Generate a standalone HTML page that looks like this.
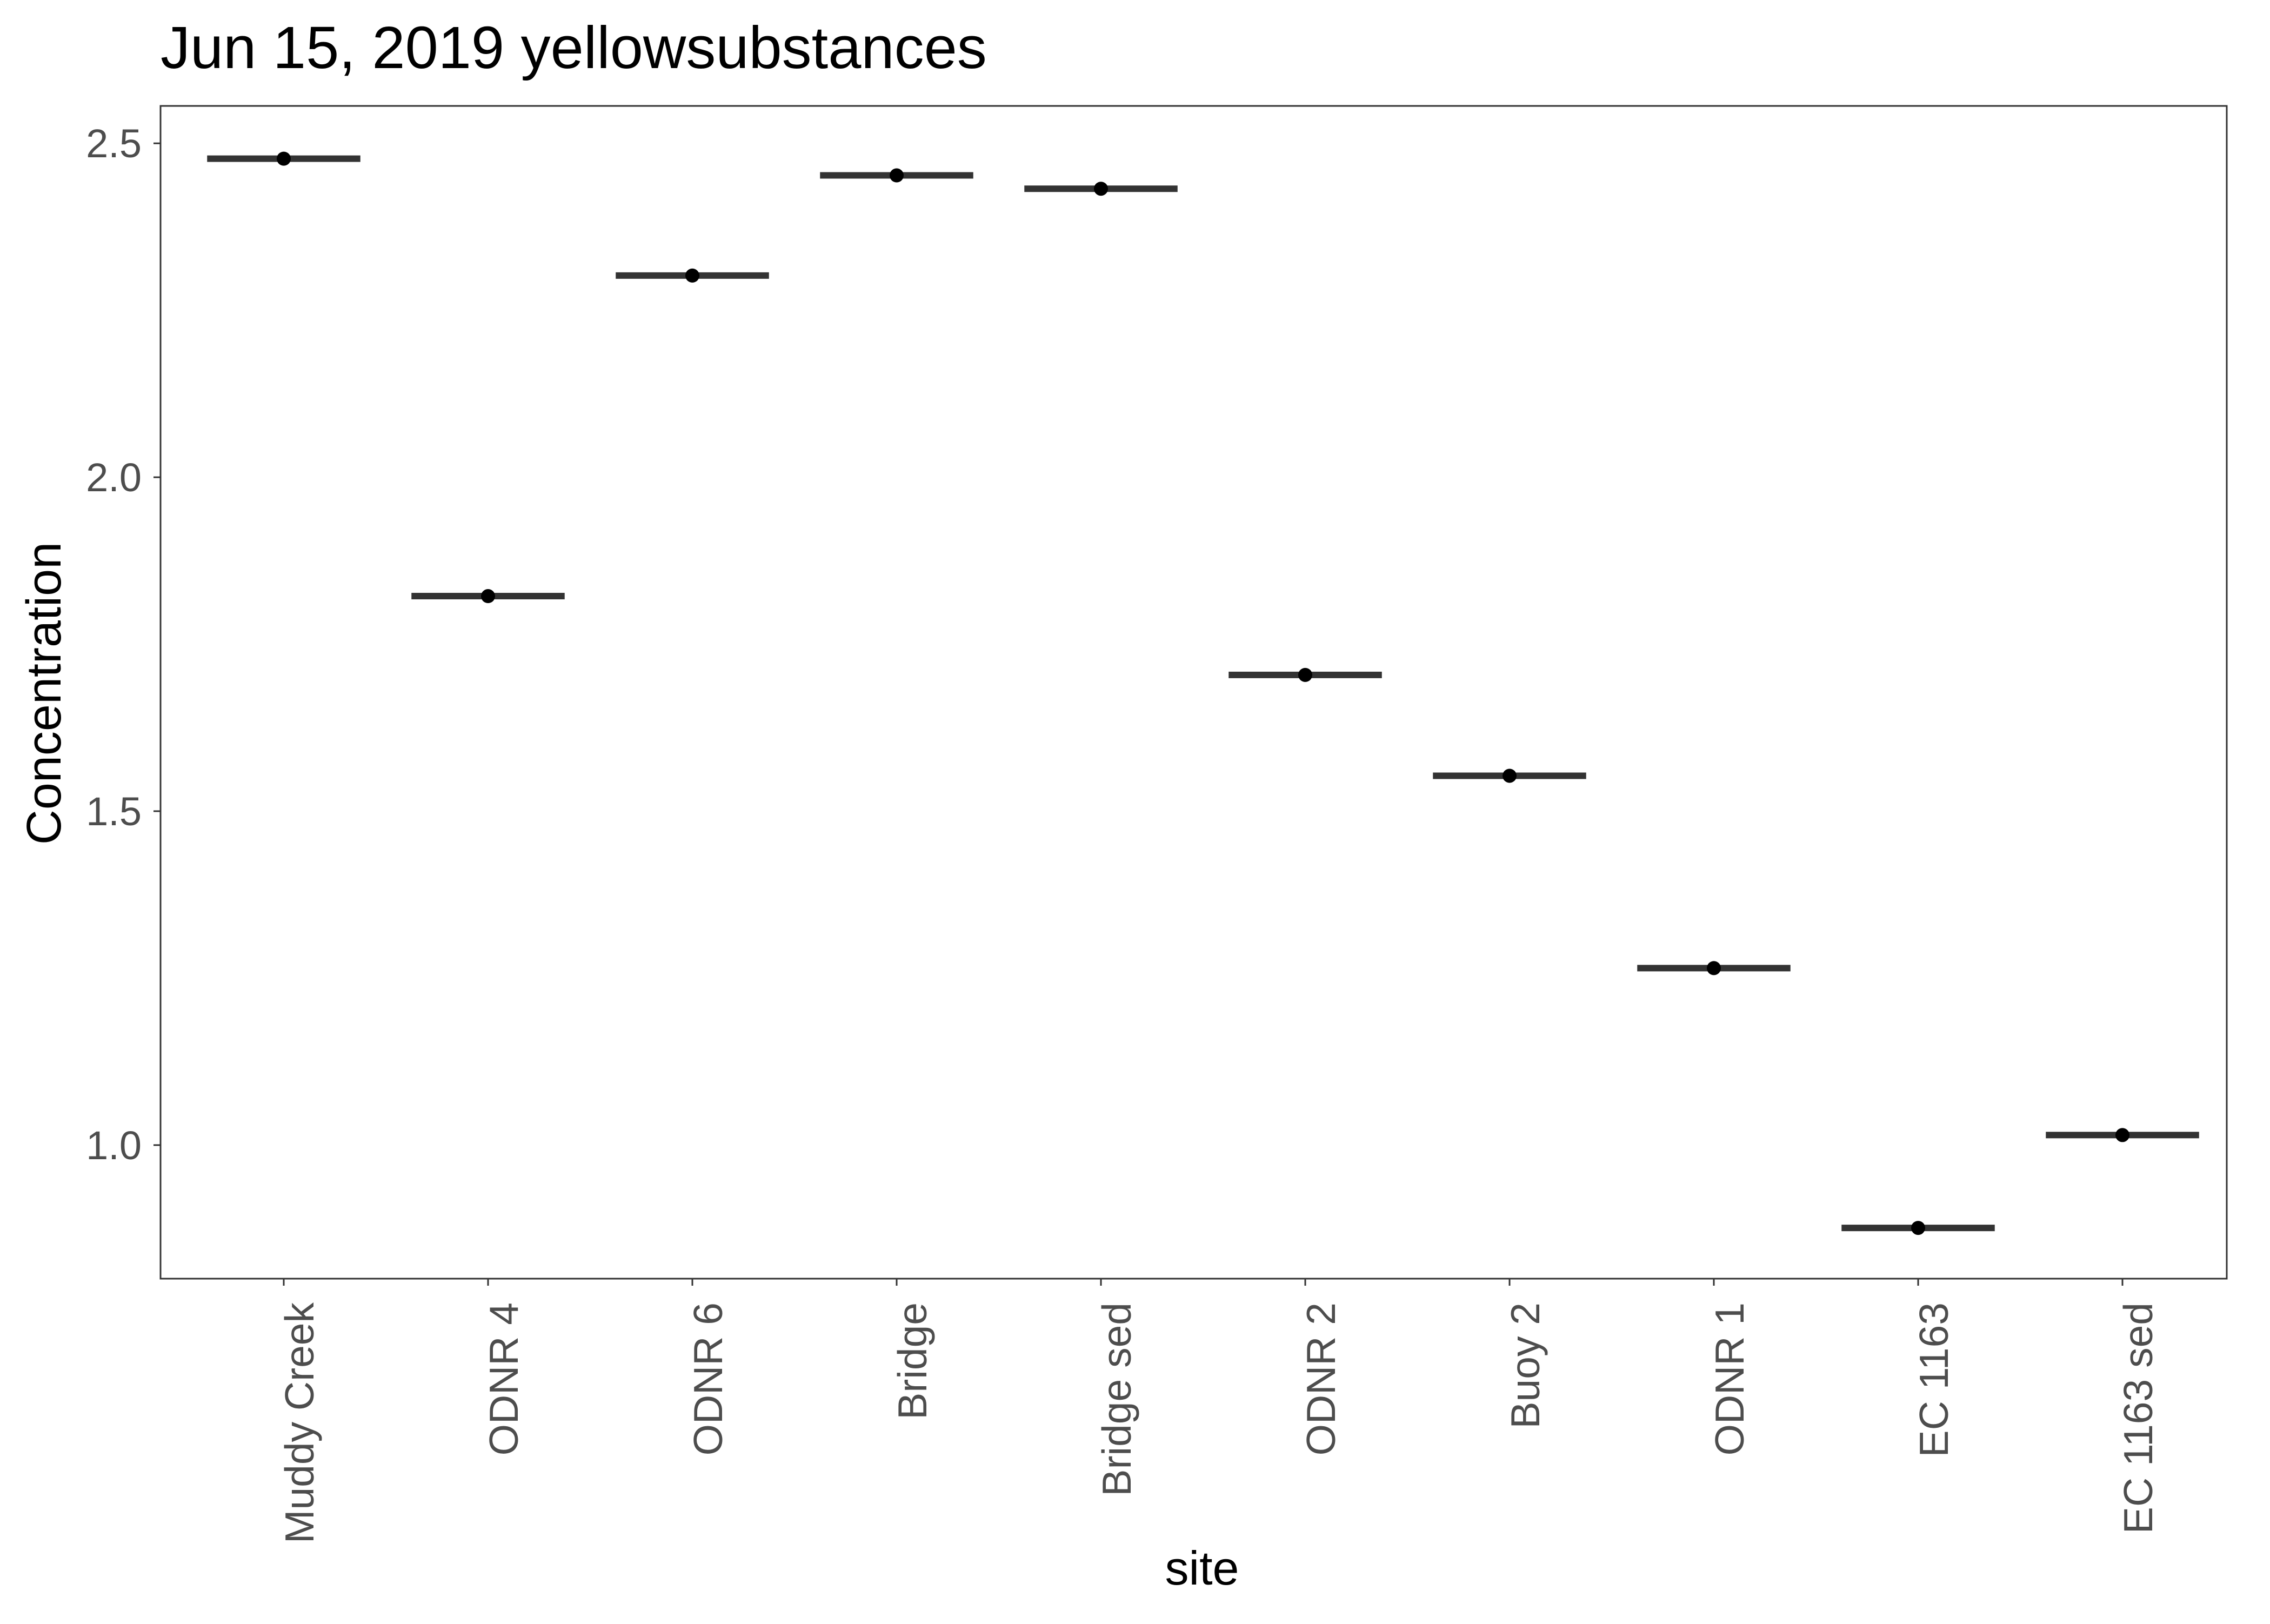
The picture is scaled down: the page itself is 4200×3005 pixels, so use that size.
<!DOCTYPE html>
<html><head><meta charset="utf-8"><style>
body{margin:0;background:#fff}
svg text{font-family:"Liberation Sans",Arial,sans-serif}
</style></head><body>
<svg id="chart" width="4200" height="3000" xmlns="http://www.w3.org/2000/svg">
<rect width="4200" height="3000" fill="#fff"/>
<text x="297" y="126" font-size="110" fill="#000">Jun 15, 2019 yellowsubstances</text>
<g id="marks"></g>
<rect x="297" y="196" width="3823" height="2170" fill="none" stroke="#333" stroke-width="3"/>
<g id="axes"></g>
<text x="2224" y="2932" font-size="88" text-anchor="middle" fill="#000">site</text>
<text transform="translate(112,1283) rotate(-90)" font-size="90" text-anchor="middle" fill="#000">Concentration</text>
</svg>
<script>
const categories=["Muddy Creek","ODNR 4","ODNR 6","Bridge","Bridge sed","ODNR 2","Buoy 2","ODNR 1","EC 1163","EC 1163 sed"];
const values=[2.477,1.822,2.302,2.452,2.432,1.704,1.553,1.265,0.876,1.015];
const yTicks=[1.0,1.5,2.0,2.5];
const yTickLabels=["1.0","1.5","2.0","2.5"];
const ns="http://www.w3.org/2000/svg";
const x0=297,x1=4120,yTop=196,yBot=2366,yMin=0.8,yMax=2.556;
const firstX=525,lastX=3927;
const unit=(lastX-firstX)/(categories.length-1);
function xs(i){return firstX+i*unit;}
function ys(v){return yBot-(v-yMin)/(yMax-yMin)*(yBot-yTop);}
function mk(tag,attrs,parent){const e=document.createElementNS(ns,tag);for(const k in attrs)e.setAttribute(k,attrs[k]);parent.appendChild(e);return e;}
const marks=document.getElementById('marks'),axes=document.getElementById('axes');
values.forEach((v,i)=>{
  const l=mk('line',{x1:xs(i)-0.375*unit,x2:xs(i)+0.375*unit,y1:ys(v),y2:ys(v),stroke:'#333','stroke-width':12},marks);
  
  
  const c=mk('circle',{cx:xs(i),cy:ys(v),r:13,fill:'#000'},marks);
  
  
});
yTicks.forEach((t,i)=>{
  const tk=mk('line',{x1:284,x2:297,y1:ys(t),y2:ys(t),stroke:'#333','stroke-width':3},axes);
  
  
  const tx=mk('text',{x:262,y:ys(t)+26,'font-size':74,'text-anchor':'end',fill:'#4d4d4d'},axes);
  tx.textContent=yTickLabels[i];
  
  
});
categories.forEach((c,i)=>{
  const tk=mk('line',{x1:xs(i),x2:xs(i),y1:2366,y2:2379,stroke:'#333','stroke-width':3},axes);
  
  
  const tx=mk('text',{transform:`translate(${xs(i)+55},2410) rotate(-90)`,'font-size':75,'text-anchor':'end',fill:'#4d4d4d'},axes);
  tx.textContent=c;
  
  
});
</script>
</body></html>
